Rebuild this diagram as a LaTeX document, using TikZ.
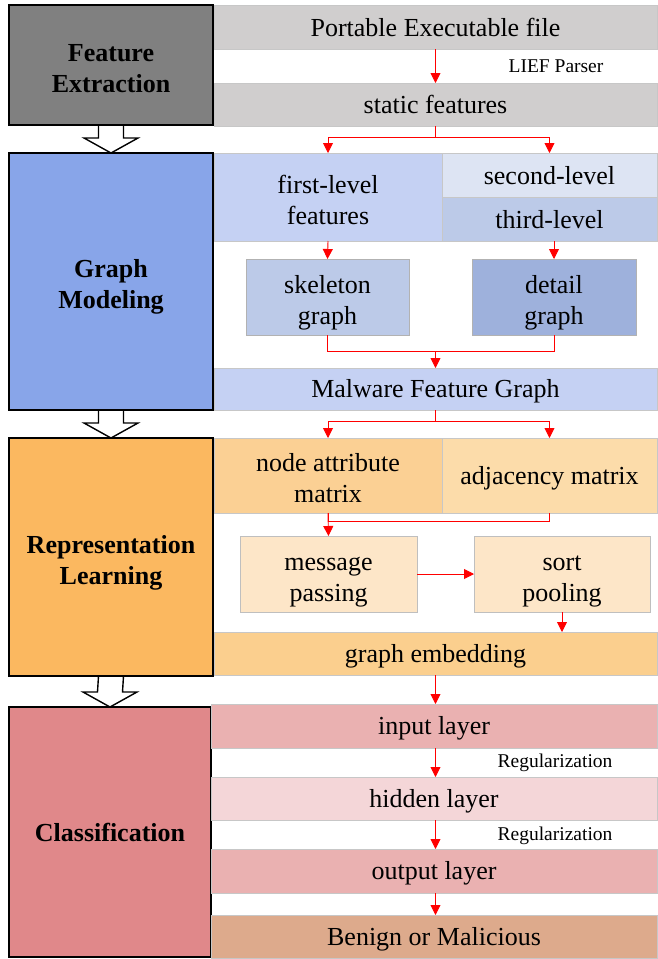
\documentclass[tikz,border=0pt]{standalone}
\usepackage{fontspec}
\setmainfont{Liberation Serif}
\usetikzlibrary{arrows.meta,calc,backgrounds}

% palette
\definecolor{peGray}{HTML}{D0CECE}
\definecolor{feGray}{HTML}{808080}
\definecolor{gmBlue}{HTML}{88A5E9}
\definecolor{blueA}{HTML}{C5D1F3}
\definecolor{blueB}{HTML}{DDE4F3}
\definecolor{blueC}{HTML}{BCCAE8}
\definecolor{blueD}{HTML}{9EB1DC}
\definecolor{rlOrange}{HTML}{FBB860}
\definecolor{orangeA}{HTML}{FBD094}
\definecolor{orangeB}{HTML}{FCDCAA}
\definecolor{orangeC}{HTML}{FDE6C8}
\definecolor{orangeD}{HTML}{FBCF8E}
\definecolor{clRed}{HTML}{E0888A}
\definecolor{pinkA}{HTML}{EAB1B1}
\definecolor{pinkB}{HTML}{F4D6D8}
\definecolor{outcome}{HTML}{DDAA8C}

\newcommand{\mainsz}{\fontsize{26}{31}\selectfont}
\newcommand{\smallsz}{\fontsize{19.5}{23}\selectfont}
% fixed line box so that every line sits at the same height, descenders or not
\newcommand{\linebox}{\rule[-0.17em]{0pt}{1.07em}}
% two-line label with fixed top and bottom line boxes
\newcommand{\twolines}[2]{\rule{0pt}{29pt}#1\\#2\rule[-6pt]{0pt}{6pt}}

\tikzset{
  band/.style={draw=black!22, line width=0.6pt, inner sep=0pt, outer sep=0pt,
    font=\mainsz, align=center, execute at begin node=\linebox},
  stage/.style={draw=black, line width=1.6pt, inner sep=0pt, outer sep=0pt,
    font=\mainsz\bfseries, align=center, minimum width=204pt,
    execute at begin node=\linebox},
  rline/.style={red, line width=0.9pt},
  rarrow/.style={rline, -{Triangle[length=10pt,width=10pt]}},
  blockarr/.style={draw=black, fill=white, line width=1.4pt, line join=miter},
  note/.style={font=\smallsz, inner sep=0pt},
}

% hollow block arrow from the bottom of one stage box to the top of the next
\newcommand{\stagearrow}[2]{%
  \draw[blockarr] ($(#1.south)+(-12.5,0)$) -- ($(#2.north)+(-12.5,-15)$)
    -- ($(#2.north)+(-27,-15)$) -- (#2.north) -- ($(#2.north)+(27,-15)$)
    -- ($(#2.north)+(12.5,-15)$) -- ($(#1.south)+(12.5,0)$);}

\begin{document}
\begin{tikzpicture}[x=1pt, y=-1pt]
\useasboundingbox (0,0) rectangle (657,959);

% ---- stage boxes on the left ----
\node[stage, fill=feGray, minimum height=120pt] (fe) at (111,65) {\twolines{Feature}{Extraction}};
\node[stage, fill=gmBlue, minimum height=257pt] (gm) at (111,281.5) {\twolines{Graph}{Modeling}};
\node[stage, fill=rlOrange, minimum height=238pt] (rl) at (111,557) {\twolines{Representation}{Learning}};
\node[stage, fill=clRed, minimum width=202pt, minimum height=250pt] (cl) at (110,832) {Classification};

\begin{scope}[on background layer]
  \stagearrow{fe}{gm}
  \stagearrow{gm}{rl}
  \stagearrow{rl}{cl}
\end{scope}

% ---- feature extraction ----
\node[band, fill=peGray, minimum width=443pt, minimum height=44pt] (pe) at (435.5,27) {Portable Executable file};
\node[band, fill=peGray, minimum width=443pt, minimum height=43pt] (stat) at (435.5,104.5) {static features};
\node[note] (lief) at (556,66) {LIEF Parser};

% ---- graph modeling ----
\node[band, fill=blueA, minimum width=228pt, minimum height=88pt] (first) at (328,197) {\twolines{first-level}{features}};
\node[band, fill=blueB, minimum width=215pt, minimum height=44pt] (second) at (549.5,175) {second-level};
\node[band, fill=blueC, minimum width=215pt, minimum height=44pt] (third) at (549.5,219) {third-level};
\node[band, fill=blueC, draw=black!30, minimum width=163pt, minimum height=76pt] (skel) at (327.5,297) {\twolines{skeleton}{graph}};
\node[band, fill=blueD, draw=black!30, minimum width=164pt, minimum height=76pt] (detail) at (554,297) {\twolines{detail}{graph}};
\node[band, fill=blueA, minimum width=443pt, minimum height=42pt] (mfg) at (435.5,389) {Malware Feature Graph};

% ---- representation learning ----
\node[band, fill=orangeA, minimum width=228pt, minimum height=75pt] (nam) at (328,475.5) {\twolines{node attribute}{matrix}};
\node[band, fill=orangeB, minimum width=215pt, minimum height=75pt] (adj) at (549.5,475.5) {adjacency matrix};
\node[band, fill=orangeC, draw=black!25, minimum width=177pt, minimum height=76pt] (msg) at (328.5,574) {\twolines{message}{passing}};
\node[band, fill=orangeC, draw=black!25, minimum width=176pt, minimum height=76pt] (sort) at (562,574) {\twolines{sort}{pooling}};
\node[band, fill=orangeD, minimum width=443pt, minimum height=43pt] (emb) at (435.5,653.5) {graph embedding};

% ---- classification ----
\node[band, fill=pinkA, minimum width=446pt, minimum height=44pt] (inp) at (434,726) {input layer};
\node[band, fill=pinkB, minimum width=446pt, minimum height=43pt] (hid) at (434,798.5) {hidden layer};
\node[band, fill=pinkA, minimum width=446pt, minimum height=44pt] (outl) at (434,871) {output layer};
\node[band, fill=outcome, minimum width=446pt, minimum height=43pt] (ben) at (434,936.5) {Benign or Malicious};
\node[note] (reg1) at (555,763) {Regularization};
\node[note] (reg2) at (555,836) {Regularization};

% ---- connectors ----
\draw[rarrow] (pe.south) -- (stat.north);
\draw[rarrow] (stat.south) -- ++(0,11) -| (first.north);
\draw[rarrow] (stat.south) -- ++(0,11) -| (second.north);
\draw[rarrow] (first.south) -- (skel.north);
\draw[rarrow] (detail.north |- third.south) -- (detail.north);
\draw[rline] (skel.south) -- ++(0,16) -| (detail.south);
\path (mfg.north) ++(0,-17) coordinate (join1);
\draw[rarrow] (join1) -- (mfg.north);
\draw[rarrow] (mfg.south) -- ++(0,11) -| (nam.north);
\draw[rarrow] (mfg.south) -- ++(0,11) -| (adj.north);
\draw[rline] (nam.south) -- ++(0,8) -| (adj.south);
\draw[rarrow] (nam.south) -- (msg.north);
\draw[rarrow] (msg.east) -- (sort.west);
\draw[rarrow] (sort.south) -- (sort.south |- emb.north);
\draw[rarrow] (emb.south) -- (emb.south |- inp.north);
\draw[rarrow] (emb.south |- inp.south) -- (emb.south |- hid.north);
\draw[rarrow] (emb.south |- hid.south) -- (emb.south |- outl.north);
\draw[rarrow] (emb.south |- outl.south) -- (emb.south |- ben.north);
\end{tikzpicture}
\end{document}
